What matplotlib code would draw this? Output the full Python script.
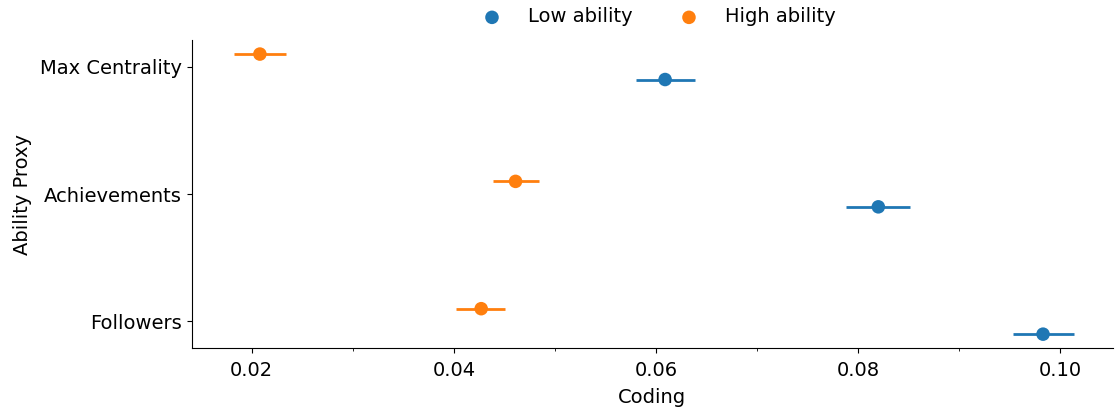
import numpy as np
import matplotlib
matplotlib.use('Agg')
from matplotlib import pyplot as plt
from matplotlib.ticker import MultipleLocator

# coefficient estimates and 95% interval bounds per ability proxy
proxies = ['Max Centrality', 'Achievements', 'Followers']

low_mean = [0.0609, 0.0820, 0.0983]
low_lo = [0.0580, 0.0788, 0.0953]
low_hi = [0.0639, 0.0851, 0.1014]

high_mean = [0.0208, 0.0461, 0.0427]
high_lo = [0.0182, 0.0439, 0.0402]
high_hi = [0.0234, 0.0484, 0.0451]

groups = ['Low ability', 'High ability']
colors = ['#1f77b4', '#ff7f0e']


def main():
    plt.rcParams['font.size'] = 14
    fig = plt.figure(figsize=(11.15, 4.13), dpi=100)
    ax = fig.add_axes([0.172, 0.157, 0.826, 0.746])

    pos = np.arange(len(proxies))
    series = [(low_mean, low_lo, low_hi, 0.1),
              (high_mean, high_lo, high_hi, -0.1)]
    for (m, lo, hi, off), c, name in zip(series, colors, groups):
        m = np.array(m)
        err = [m - np.array(lo), np.array(hi) - m]
        ax.errorbar(m, pos + off, xerr=err, fmt='none', ecolor=c,
                    elinewidth=2.0, capsize=0)
        ax.scatter(m, pos + off, s=95, color=c, zorder=3, label=name,
                   edgecolors='none')

    ax.set_yticks(pos)
    ax.set_yticklabels(proxies)
    ax.invert_yaxis()
    ax.xaxis.set_major_locator(MultipleLocator(0.02))
    ax.xaxis.set_minor_locator(MultipleLocator(0.01))
    ax.tick_params(axis='x', which='major', pad=5.5)
    ax.set_xlim(0.01406, 0.1052)
    ax.set_xlabel('Coding', labelpad=6)
    ax.set_ylabel('Ability Proxy', labelpad=6)
    ax.spines['top'].set_visible(False)
    ax.spines['right'].set_visible(False)

    ax.legend(loc='lower center', bbox_to_anchor=(0.502, 1.0), ncol=2,
              frameon=False, columnspacing=1.9, handletextpad=0.85,
              borderaxespad=0.3)
    fig.savefig('out.png', dpi=100)


if __name__ == "__main__":
    main()
